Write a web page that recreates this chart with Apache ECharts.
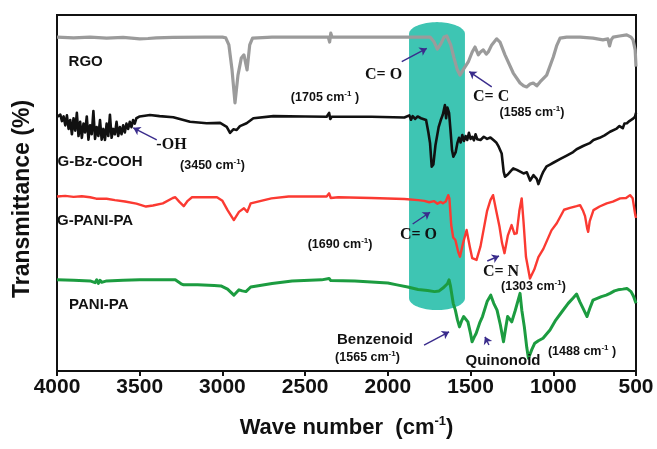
<!DOCTYPE html>
<html><head><meta charset="utf-8">
<script src="https://cdn.jsdelivr.net/npm/echarts@6/dist/echarts.min.js"></script>
<style>html,body{margin:0;padding:0;background:#fff}#c{width:657px;height:449px}</style>
</head><body><div id="c"></div>
<script>
// ---------------- data (wavenumber cm-1, offset transmittance, a.u.) ----------------
const xTicks = [4000, 3500, 3000, 2500, 2000, 1500, 1000, 500];
const seriesNames = ['RGO', 'G-Bz-COOH', 'G-PANI-PA', 'PANI-PA'];

const rgo = [
[4000,93.8],[3900,93.6],[3800,93.8],[3700,93.5],[3600,93.7],[3500,93.3],[3450,93.4],[3400,93.6],[3300,93.7],[3100,93.8],[3000,93.8],[2980,93.6],[2961,91.6],[2942,84.6],[2924,75.3],[2906,83.1],[2886,87.9],[2870,88.8],[2851,84.6],[2835,91.6],[2818,93.5],[2700,93.8],[2400,93.8],[2360,93.8],[2352,92.4],[2345,94.9],[2338,93.8],[2100,93.8],[1900,93.8],[1745,93.8],[1720,92.4],[1701,90.4],[1680,91.9],[1660,93.8],[1644,94.1],[1620,91.6],[1600,87.9],[1580,84.6],[1564,83.1],[1545,84.6],[1514,86.8],[1490,89.6],[1473,91.0],[1453,88.8],[1440,89.6],[1423,90.2],[1405,89.0],[1393,89.6],[1372,91.6],[1342,93.3],[1322,92.4],[1292,88.8],[1242,83.7],[1201,80.9],[1180,80.1],[1161,79.8],[1140,80.6],[1121,80.9],[1100,80.1],[1080,81.2],[1040,83.1],[1000,88.2],[980,91.3],[959,93.5],[919,93.8],[838,93.8],[760,93.5],[700,93.0],[670,93.3],[660,91.3],[650,93.0],[638,93.8],[600,94.1],[556,94.4],[530,93.8],[518,93.0],[505,90.2],[500,85.5]
];

const gbz = [
[4000,71.4],[3990,71.0],[3980,72.0],[3970,70.2],[3960,71.5],[3950,69.0],[3940,71.8],[3930,68.0],[3920,70.5],[3910,66.5],[3900,71.0],[3890,67.5],[3880,72.5],[3870,66.0],[3860,70.0],[3850,65.5],[3840,69.5],[3830,67.0],[3820,71.5],[3810,65.0],[3800,69.0],[3790,66.5],[3780,73.0],[3770,65.2],[3760,68.5],[3750,66.0],[3740,70.5],[3730,65.0],[3720,68.0],[3710,64.9],[3700,69.5],[3690,66.0],[3680,72.0],[3670,65.5],[3660,68.0],[3650,66.5],[3640,70.0],[3630,66.0],[3620,68.5],[3610,66.5],[3600,69.0],[3590,67.0],[3580,69.5],[3570,68.0],[3560,70.0],[3550,68.5],[3540,70.5],[3530,69.5],[3520,71.0],[3500,71.5],[3438,71.9],[3380,71.6],[3297,71.3],[3196,70.0],[3095,69.6],[3014,69.7],[2974,68.6],[2954,66.9],[2934,67.9],[2914,67.7],[2894,68.8],[2854,69.6],[2813,71.0],[2692,71.6],[2500,71.5],[2370,71.4],[2355,72.5],[2348,70.8],[2340,71.4],[2100,71.4],[1900,71.2],[1870,71.8],[1860,70.6],[1850,71.6],[1835,70.8],[1820,71.5],[1800,71.0],[1769,70.5],[1755,67.0],[1745,64.0],[1735,57.4],[1725,58.0],[1712,63.5],[1693,68.5],[1680,70.5],[1668,72.0],[1655,74.7],[1648,71.0],[1640,74.0],[1630,72.5],[1622,68.0],[1612,62.0],[1604,60.2],[1590,61.5],[1580,64.0],[1570,65.5],[1560,64.2],[1550,66.3],[1540,64.6],[1530,66.0],[1520,64.9],[1510,66.9],[1500,65.2],[1490,65.8],[1480,64.8],[1470,66.5],[1460,65.1],[1450,65.6],[1440,64.9],[1420,65.8],[1400,65.2],[1380,65.6],[1360,64.8],[1345,64.2],[1330,63.0],[1312,61.1],[1300,56.0],[1292,54.6],[1275,55.2],[1260,56.0],[1242,56.9],[1220,56.5],[1200,56.0],[1180,55.5],[1160,55.8],[1140,53.5],[1131,53.2],[1120,55.0],[1100,54.0],[1090,52.5],[1080,52.2],[1070,55.0],[1060,56.0],[1040,57.5],[1020,58.0],[1000,58.5],[960,59.5],[919,60.5],[880,61.5],[859,62.3],[820,63.2],[780,64.0],[757,64.9],[720,65.5],[690,66.2],[657,67.2],[620,68.0],[600,68.8],[580,68.2],[570,69.5],[555,69.6],[540,70.2],[520,70.8],[506,71.4],[500,72.5]
];

const gpani = [
[4000,49.0],[3950,49.2],[3900,48.9],[3850,49.1],[3800,48.8],[3763,48.4],[3700,48.4],[3650,48.0],[3589,47.6],[3520,47.0],[3462,46.2],[3420,46.5],[3360,47.1],[3300,48.6],[3285,48.8],[3260,47.5],[3234,46.3],[3210,47.8],[3184,48.8],[3100,48.8],[3033,48.8],[3000,47.8],[2969,45.2],[2931,42.4],[2900,44.7],[2870,45.7],[2850,44.7],[2829,47.1],[2704,48.5],[2600,49.0],[2370,49.0],[2355,49.9],[2345,48.6],[2300,48.8],[2100,48.6],[1900,48.3],[1817,48.0],[1780,47.8],[1750,47.4],[1720,47.7],[1700,47.0],[1680,47.5],[1667,47.1],[1650,47.6],[1635,49.4],[1628,48.5],[1617,41.0],[1605,37.5],[1592,36.8],[1575,33.5],[1564,32.1],[1545,36.0],[1524,39.6],[1505,35.0],[1490,31.7],[1464,31.2],[1440,35.0],[1420,40.0],[1400,45.0],[1380,48.0],[1364,49.4],[1345,45.0],[1325,40.5],[1310,36.0],[1295,33.1],[1275,38.0],[1252,41.0],[1235,38.5],[1221,38.7],[1205,45.0],[1191,48.5],[1180,42.0],[1165,32.0],[1141,26.0],[1115,28.5],[1090,32.0],[1060,34.3],[1011,39.5],[979,41.5],[935,45.3],[899,45.8],[859,46.3],[838,46.6],[820,45.0],[808,43.5],[795,40.0],[789,39.1],[780,42.0],[757,45.2],[720,46.2],[677,47.1],[640,47.6],[596,48.5],[560,48.6],[536,49.4],[520,48.5],[505,44.0],[500,43.0]
];

const pani = [
[4000,25.6],[3900,25.5],[3800,25.3],[3770,24.8],[3760,25.6],[3750,24.6],[3740,25.5],[3730,24.9],[3700,25.3],[3600,25.5],[3500,25.6],[3300,25.6],[3285,25.6],[3250,24.5],[3234,24.2],[3150,24.2],[3050,24.0],[3009,23.9],[2969,23.0],[2931,21.3],[2900,22.8],[2880,22.5],[2858,22.3],[2829,23.6],[2700,24.6],[2579,25.3],[2400,25.6],[2355,26.0],[2345,25.4],[2200,25.3],[2000,24.7],[1945,24.2],[1880,23.6],[1817,22.9],[1760,22.6],[1718,22.3],[1690,22.5],[1667,23.3],[1640,24.5],[1630,25.6],[1622,24.0],[1618,22.8],[1605,19.0],[1592,17.1],[1580,14.5],[1567,12.4],[1555,14.0],[1542,15.3],[1530,14.8],[1516,13.8],[1500,10.5],[1491,8.2],[1478,9.5],[1466,10.6],[1445,13.5],[1428,15.3],[1400,19.5],[1378,21.3],[1360,19.0],[1340,17.1],[1320,13.0],[1301,8.2],[1288,12.0],[1276,15.3],[1262,14.5],[1251,13.8],[1230,17.0],[1201,21.8],[1190,17.0],[1175,12.4],[1160,6.5],[1150,3.6],[1130,6.0],[1112,7.8],[1090,8.5],[1062,9.2],[1020,11.5],[985,14.3],[950,16.5],[910,19.0],[880,20.5],[859,21.6],[840,19.5],[820,17.6],[796,15.3],[780,17.5],[760,19.9],[709,20.9],[680,21.3],[657,21.8],[630,22.5],[609,22.8],[580,23.0],[555,23.2],[530,22.3],[515,21.0],[500,19.0]
];

// highlighted band: [wavenumber from, wavenumber to, top, bottom]
const band = [[1872, 1534, 98.0, 17.1]];

// ---------------- annotations (layout) ----------------
const labelTexts = [
  ['RGO', 3927, 86.8, 'left', 'name'],
  ['C= O', 2023, 83.1, 'center', 'bond'],
  ['(1705 cm{s|-1} )', 2377, 76.7, 'center', 'wn'],
  ['C= C', 1373, 77.0, 'center', 'bond'],
  ['(1585 cm{s|-1})', 1126, 72.5, 'center', 'wn'],
  ['-OH', 3305, 63.5, 'center', 'bond'],
  ['G-Bz-COOH', 3994, 58.7, 'left', 'name'],
  ['(3450 cm{s|-1})', 3057, 57.6, 'center', 'wn'],
  ['G-PANI-PA', 3997, 41.9, 'left', 'name'],
  ['C= O', 1812, 38.2, 'center', 'bond'],
  ['(1690 cm{s|-1})', 2286, 35.4, 'center', 'wn'],
  ['C= N', 1313, 27.6, 'center', 'bond'],
  ['(1303 cm{s|-1})', 1117, 23.7, 'center', 'wn'],
  ['PANI-PA', 3924, 18.5, 'left', 'name'],
  ['Benzenoid', 2075, 8.7, 'center', 'name'],
  ['(1565 cm{s|-1})', 2120, 3.7, 'center', 'wn'],
  ['Quinonoid', 1301, 2.6, 'center', 'name'],
  ['(1488 cm{s|-1} )', 823, 5.4, 'center', 'wn']
];
const arrows = [
  [[1916, 86.9], [1765, 90.6]],
  [[1372, 79.8], [1508, 84.1]],
  [[3397, 64.9], [3539, 68.3]],
  [[1850, 41.3], [1745, 44.6]],
  [[1399, 30.9], [1328, 32.3]],
  [[1781, 7.3], [1630, 11.0]],
  [[1389, 7.3], [1413, 9.6]]
];

const SANS = 'Liberation Sans, Arial, sans-serif';
const SERIF = 'Liberation Serif, Times New Roman, serif';
const TXT = '#111111';
const fontStyles = {
  name: {fontFamily: SANS, fontWeight: 'bold', fontSize: 15},
  bond: {fontFamily: SERIF, fontWeight: 'bold', fontSize: 16},
  wn: {fontFamily: SANS, fontWeight: 'bold', fontSize: 12.5, lineHeight: 15,
       rich: {s: {fontFamily: SANS, fontWeight: 'bold', fontSize: 8, verticalAlign: 'top', color: TXT, lineHeight: 15, textBorderWidth: 0}}}
};

const chart = echarts.init(document.getElementById('c'), null, {renderer: 'canvas'});

const lineColors = ['#9b9b9b', '#111111', '#fb3a32', '#1c9c40'];
const lineWidths = [3.2, 2.6, 2.4, 3];
const lineData = [rgo, gbz, gpani, pani];

const series = [];
series.push({
  type: 'custom', name: 'band', silent: true, z: 1,
  data: band,
  encode: {x: [0, 1], y: [2, 3]},
  renderItem: function (params, api) {
    const a = api.coord([api.value(0), api.value(2)]);
    const b = api.coord([api.value(1), api.value(3)]);
    const left = Math.min(a[0], b[0]), right = Math.max(a[0], b[0]);
    const top = Math.min(a[1], b[1]), bot = Math.max(a[1], b[1]);
    const rx = (right - left) / 2, cx = (left + right) / 2, ry = 12;
    const pts = [];
    for (let i = 0; i <= 40; i++) {
      const t = Math.PI + Math.PI * i / 40;
      pts.push([cx + rx * Math.cos(t), top + ry + ry * Math.sin(t)]);
    }
    for (let i = 0; i <= 40; i++) {
      const t = Math.PI * i / 40;
      pts.push([cx + rx * Math.cos(t), bot - ry + ry * Math.sin(t)]);
    }
    return {type: 'polygon', shape: {points: pts}, style: {fill: '#3ec5b3'}};
  }
});

lineData.forEach(function (d, i) {
  series.push({
    type: 'line', name: seriesNames[i], data: d, showSymbol: false, symbol: 'none',
    smooth: false, z: 3, clip: true,
    lineStyle: {color: lineColors[i], width: lineWidths[i], join: 'round'}
  });
});

series.push({
  type: 'lines', coordinateSystem: 'cartesian2d', z: 5, silent: true,
  symbol: ['none', 'arrow'], symbolSize: 7,
  lineStyle: {color: '#3a2c8c', width: 1.4, opacity: 1},
  data: arrows.map(function (a) { return {coords: a}; })
});

series.push({
  type: 'scatter', z: 6, silent: true, symbolSize: 1,
  itemStyle: {color: 'rgba(0,0,0,0)'},
  data: labelTexts.map(function (t) {
    const f = fontStyles[t[4]];
    return {
      value: [t[1], t[2]],
      label: Object.assign({show: true, formatter: t[0], position: [0, 0], align: t[3],
        verticalAlign: 'middle', color: TXT, textBorderWidth: 0, opacity: 1}, f)
    };
  })
});

chart.setOption({
  animation: false,
  backgroundColor: '#ffffff',
  grid: {left: 57, right: 21, top: 15, bottom: 78, show: true, borderColor: '#111', borderWidth: 2, backgroundColor: 'transparent'},
  xAxis: {
    type: 'value', inverse: true,
    min: Math.min.apply(null, xTicks), max: Math.max.apply(null, xTicks), interval: 500,
    axisLine: {show: true, onZero: false, lineStyle: {color: '#111', width: 2}},
    axisTick: {show: true, inside: false, length: 5, lineStyle: {color: '#111', width: 2}},
    axisLabel: {fontSize: 21, fontWeight: 'bold', color: '#111', fontFamily: SANS, margin: 6,
      formatter: function (v) { return String(v); }},
    splitLine: {show: false},
    name: 'Wave number  (cm{s|-1})', nameLocation: 'middle', nameGap: 44,
    nameTextStyle: {fontSize: 22, fontWeight: 'bold', color: '#111', fontFamily: SANS, lineHeight: 26,
      rich: {s: {fontSize: 13, fontWeight: 'bold', color: '#111', fontFamily: SANS, verticalAlign: 'top', lineHeight: 26}}}
  },
  yAxis: {
    type: 'value', min: 0, max: 100,
    axisLine: {show: true, onZero: false, lineStyle: {color: '#111', width: 2}},
    axisTick: {show: false}, axisLabel: {show: false}, splitLine: {show: false},
    name: 'Transmittance (%)', nameLocation: 'middle', nameGap: 23,
    nameTextStyle: {fontSize: 23, fontWeight: 'bold', color: '#111', fontFamily: SANS, padding: [0, 12, 0, 0]}
  },
  series: series
});
</script>
</body></html>
